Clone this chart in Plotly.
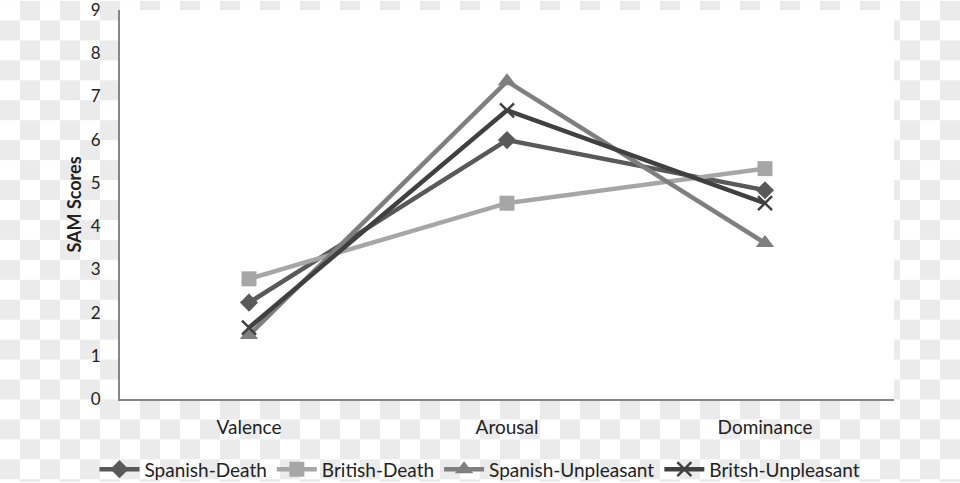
import base64
import plotly.graph_objects as go

categories = ["Valence", "Arousal", "Dominance"]
spanish_death = [2.23, 5.99, 4.83]
british_death = [2.78, 4.53, 5.33]
spanish_unpleasant = [1.48, 7.35, 3.61]
britsh_unpleasant = [1.65, 6.68, 4.53]
y_ticks = list(range(0, 10))

W, H = 960, 483
L, R, T, B = 120, 66, 9.5, 83.5
PW, PH = W - L - R, H - T - B

# transparent-checkerboard background (as in the reference image)
svg = (
    f'<svg xmlns="http://www.w3.org/2000/svg" width="{W}" height="{H}" viewBox="0 0 {W} {H}" preserveAspectRatio="none">'
    '<defs><pattern id="p" width="40" height="40" patternUnits="userSpaceOnUse">'
    '<rect width="40" height="40" fill="#ffffff"/>'
    '<rect x="20" y="0" width="20" height="20" fill="#ebebeb"/>'
    '<rect x="0" y="20" width="20" height="20" fill="#ebebeb"/>'
    '</pattern></defs>'
    f'<rect width="{W}" height="{H}" fill="url(#p)"/>'
    f'<rect x="{L}" y="{T}" width="{PW}" height="{PH}" fill="#ffffff"/>'
    '</svg>'
)
src = "data:image/svg+xml;base64," + base64.b64encode(svg.encode()).decode()

series = [
    ("Spanish-Death", spanish_death, "#595959", dict(symbol="diamond", size=14)),
    ("British-Death", british_death, "#a6a6a6", dict(symbol="square", size=15)),
    ("Spanish-Unpleasant", spanish_unpleasant, "#7f7f7f", dict(symbol="triangle-up", size=16)),
    ("Britsh-Unpleasant", britsh_unpleasant, "#404040",
     dict(symbol="x-thin", size=14, line=dict(width=2.5, color="#404040"))),
]

fig = go.Figure()
for name, vals, col, mk in series:
    fig.add_trace(go.Scatter(
        x=categories, y=vals, name=name, mode="lines+markers",
        line=dict(color=col, width=4.5),
        marker=dict(color=col, **mk),
    ))

fig.update_layout(
    width=W, height=H,
    margin=dict(l=L, r=R, t=T, b=B, autoexpand=False),
    paper_bgcolor="rgba(0,0,0,0)",
    plot_bgcolor="rgba(0,0,0,0)",
    font=dict(family="Lato, Carlito, Calibri, sans-serif", size=19, color="#222222"),
    images=[dict(source=src, xref="paper", yref="paper",
                 x=-L / PW, y=1 + T / PH, sizex=W / PW, sizey=H / PH,
                 xanchor="left", yanchor="top", sizing="stretch", layer="below")],
    xaxis=dict(
        type="category", range=[-0.5, 2.5], showgrid=False, zeroline=False,
        showline=True, linecolor="#868686", linewidth=2, automargin=False,
        ticks="outside", ticklen=10, tickcolor="rgba(0,0,0,0)",
        tickfont=dict(size=19),
    ),
    yaxis=dict(
        range=[0, 9.0001], tickvals=y_ticks, showgrid=False, zeroline=False,
        showline=True, linecolor="#868686", linewidth=2, automargin=False,
        ticks="outside", ticklen=14, tickcolor="rgba(0,0,0,0)",
        tickfont=dict(size=17), ticklabeloverflow="allow",
        title=dict(text="<b>SAM Scores</b>", font=dict(size=18), standoff=4),
    ),
    legend=dict(
        orientation="h", x=(480 - L) / PW, xanchor="center",
        y=-(470 - (T + PH)) / PH, yanchor="middle",
        font=dict(size=19), bgcolor="rgba(0,0,0,0)",
        itemwidth=40, tracegroupgap=0,
    ),
    showlegend=True,
)

fig.write_html("out.html", config={"displayModeBar": False},
               post_script="document.body.style.margin='0';document.body.style.overflow='hidden';")
